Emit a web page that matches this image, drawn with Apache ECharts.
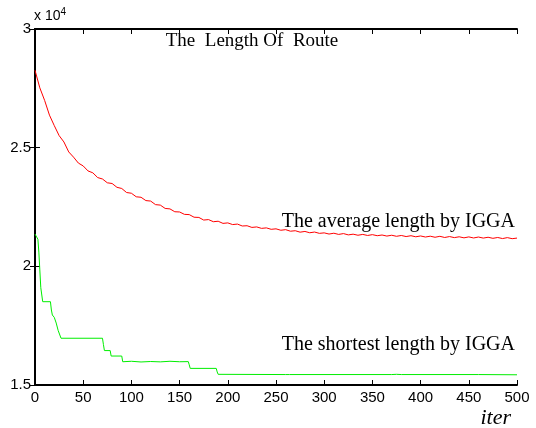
<!DOCTYPE html>
<html>
<head>
<meta charset="utf-8">
<script src="https://cdn.jsdelivr.net/npm/echarts@6/dist/echarts.min.js"></script>
<style>
html,body{margin:0;padding:0;background:#fff;}
#chart{width:536px;height:428px;}
</style>
</head>
<body>
<div id="chart"></div>
<script>
// Average route length by IGGA, sampled every 5 iterations (0..500)
var avgIters = [];
for (var k = 0; k <= 100; k++) avgIters.push(k * 5);
var avgValues = [
28260,27520,26990,26370,25930,25510,25240,24820,24600,24350,
24230,24020,23940,23740,23680,23520,23490,23330,23280,23110,
23080,22930,22910,22770,22750,22600,22580,22440,22420,22300,
22290,22190,22180,22070,22060,21950,21970,21880,21900,21810,
21830,21760,21780,21700,21710,21640,21660,21600,21620,21560,
21580,21520,21545,21480,21500,21440,21470,21415,21445,21390,
21410,21360,21395,21345,21380,21325,21355,21310,21345,21300,
21335,21290,21320,21275,21310,21265,21300,21255,21290,21245,
21280,21235,21270,21225,21265,21215,21255,21210,21245,21200,
21240,21195,21235,21190,21225,21180,21215,21170,21210,21165,
21190
];
// Shortest route length by IGGA (iteration, value) breakpoints
var bestIters = [0,3,4,5,6,8,16,17,18,20,22,24,27,70,71,72,78,79,90,91,100,110,120,130,140,150,159,160,161,188,189,190,260,262,264,370,372,375,380,460,462,500];
var bestValues = [21360,21140,20600,19850,19100,18510,18510,18160,17950,17850,17610,17300,16970,16970,16700,16450,16450,16220,16220,15980,16000,15970,15990,15975,16000,15980,15985,15850,15700,15700,15550,15450,15440,15460,15440,15440,15420,15450,15440,15440,15420,15430];
var xTicks = [0,50,100,150,200,250,300,350,400,450,500];
var yTicks = [15000,20000,25000,30000];

var avgData = avgIters.map(function(x,i){return [x, avgValues[i]];});
var bestData = bestIters.map(function(x,i){return [x, bestValues[i]];});

var chart = echarts.init(document.getElementById('chart'), null, {renderer:'canvas'});
var axisLine = {show:true, lineStyle:{color:'#000', width:2}};
var tickIn = {show:true, inside:true, length:5, lineStyle:{color:'#000', width:1}};
var lblFont = {color:'#000', fontFamily:'"Liberation Sans Narrow", "Liberation Sans", Arial', fontSize:15};
var serif = '"Liberation Serif", "Times New Roman", serif';
chart.setOption({
  animation:false,
  backgroundColor:'#fff',
  grid:{left:35, right:19, top:29, bottom:43},
  xAxis:[
    {type:'value', min:0, max:500, interval:50, position:'bottom',
     axisLine:axisLine, axisTick:tickIn, splitLine:{show:false},
     axisLabel:Object.assign({margin:5}, lblFont)},
    {type:'value', min:0, max:500, interval:50, position:'top',
     axisLine:axisLine, axisTick:tickIn, splitLine:{show:false}, axisLabel:{show:false}}
  ],
  yAxis:[
    {type:'value', min:15000, max:30000, interval:5000, position:'left',
     axisLine:axisLine, axisTick:tickIn, splitLine:{show:false},
     axisLabel:Object.assign({margin:4, formatter:function(v){return String(v/10000);}}, lblFont)},
    {type:'value', min:15000, max:30000, interval:5000, position:'right',
     axisLine:axisLine, axisTick:tickIn, splitLine:{show:false}, axisLabel:{show:false}}
  ],
  series:[
    {type:'line', data:avgData, showSymbol:false, symbol:'none',
     lineStyle:{color:'#ff0000', width:1}, itemStyle:{color:'#ff0000'}},
    {type:'line', data:bestData, showSymbol:false, symbol:'none',
     lineStyle:{color:'#00ee00', width:1}, itemStyle:{color:'#00ee00'}}
  ],
  graphic:[
    {type:'text', left:34, top:7, style:{text:'x 10{s|4}', rich:{s:{fontSize:10, verticalAlign:'top', padding:[0,0,9,0], fontFamily:'"Liberation Sans Narrow", "Liberation Sans", Arial', fill:'#000'}}, font:'14px "Liberation Sans Narrow", "Liberation Sans", Arial', fill:'#000'}},
    {type:'text', x:252, y:41, style:{text:'The  Length Of  Route', font:'19px ' + serif, fill:'#000', align:'center', verticalAlign:'middle'}},
    {type:'text', x:515, y:222, style:{text:'The average length by IGGA', font:'20px ' + serif, fill:'#000', align:'right', verticalAlign:'middle'}},
    {type:'text', x:515, y:345, style:{text:'The shortest length by IGGA', font:'20px ' + serif, fill:'#000', align:'right', verticalAlign:'middle'}},
    {type:'text', x:511, y:418, style:{text:'iter', font:'italic 22px ' + serif, fill:'#000', align:'right', verticalAlign:'middle'}}
  ]
});
</script>
</body>
</html>
